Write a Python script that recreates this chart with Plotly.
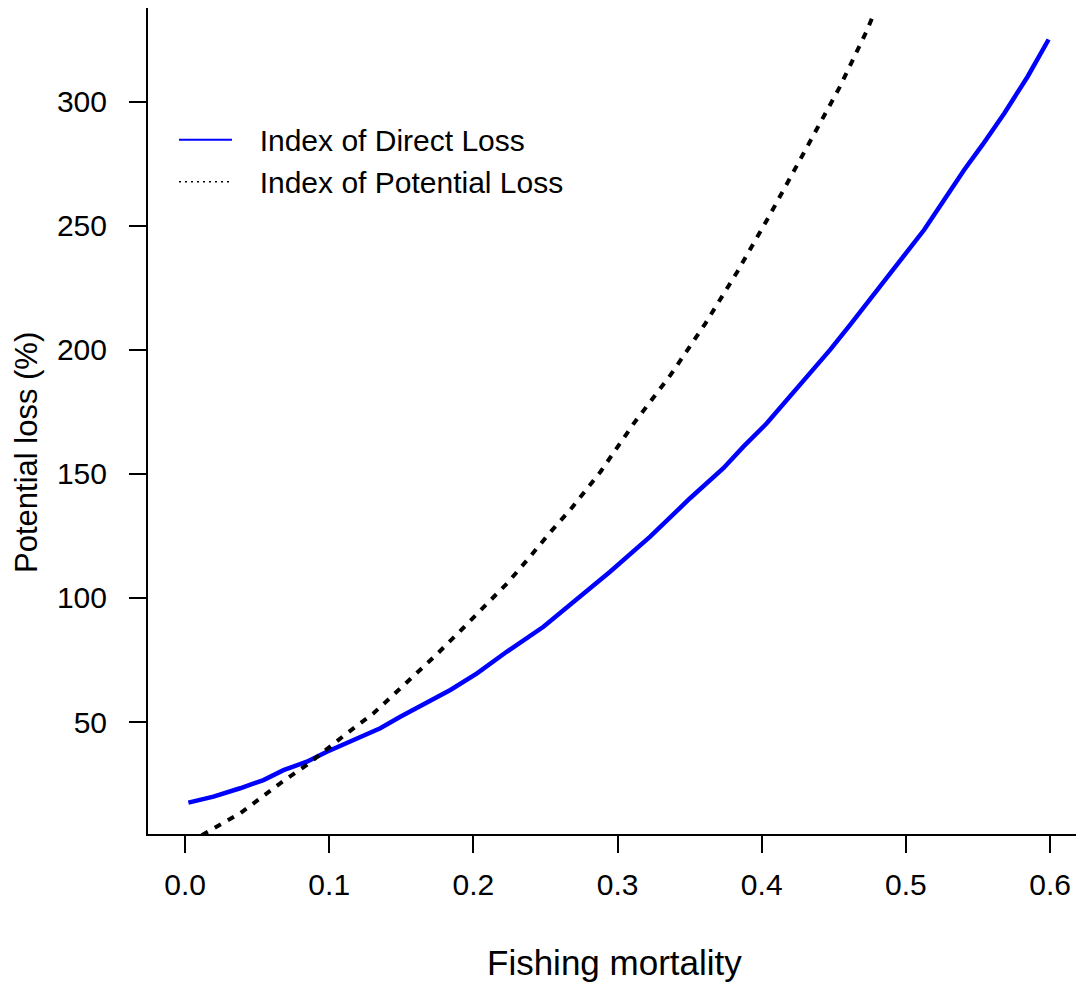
import plotly.graph_objects as go

# Index of Direct Loss (blue solid)
direct_f = [0.0023, 0.0197, 0.0382, 0.0544, 0.0683, 0.0845, 0.0984, 0.1169, 0.1354, 0.1493,
            0.1653, 0.1840, 0.2025, 0.2231, 0.2486, 0.2694, 0.2948, 0.3226, 0.3503, 0.3734,
            0.3873, 0.4035, 0.4174, 0.4335, 0.4474, 0.4613, 0.4757, 0.4965, 0.5127, 0.5266,
            0.5405, 0.5532, 0.5683, 0.5845, 0.5949, 0.5990]
direct_loss = [17.5, 19.9, 23.3, 26.6, 30.6, 34.0, 38.0, 42.7, 47.5, 52.1,
               56.9, 62.9, 69.6, 78.3, 88.4, 98.5, 110.6, 124.7, 140.2, 152.3,
               161.0, 170.4, 179.8, 190.6, 200.0, 210.1, 220.8, 236.3, 248.4, 260.5,
               272.6, 282.7, 295.4, 310.2, 321.0, 325.1]

# Index of Potential Loss (black dotted)
potential_f = [0.0116, 0.0382, 0.0660, 0.0845, 0.1122, 0.1307, 0.1481, 0.1748, 0.1921, 0.2083,
               0.2234, 0.2384, 0.2523, 0.2674, 0.2882, 0.3113, 0.3368, 0.3611, 0.3831, 0.4048,
               0.4217, 0.4388, 0.4541, 0.4731, 0.4777]
potential_loss = [4.4, 13.2, 25.3, 32.7, 45.4, 53.5, 62.9, 77.4, 87.4, 96.8,
                  105.9, 116.0, 125.8, 135.7, 150.9, 170.4, 189.9, 210.8, 231.5, 253.5,
                  271.8, 289.6, 305.9, 328.9, 335.4]

x_ticks = [0.0, 0.1, 0.2, 0.3, 0.4, 0.5, 0.6]
x_ticklabels = ["0.0", "0.1", "0.2", "0.3", "0.4", "0.5", "0.6"]
y_ticks = [50, 100, 150, 200, 250, 300]

FONT = "Liberation Sans, Arial, sans-serif"
PAD = "\u00a0\u00a0\u2009"

fig = go.Figure()
fig.add_trace(go.Scatter(x=direct_f, y=direct_loss, mode="lines", showlegend=False,
                         line=dict(color="#0000FF", width=4.5)))
fig.add_trace(go.Scatter(x=potential_f, y=potential_loss, mode="lines", showlegend=False,
                         line=dict(color="black", width=4, dash="7px,8px")))
# legend entries (thin lines like the reference legend)
fig.add_trace(go.Scatter(x=[None], y=[None], mode="lines", name=PAD + "Index of Direct Loss",
                         line=dict(color="#0000FF", width=2)))
fig.add_trace(go.Scatter(x=[None], y=[None], mode="lines", name=PAD + "Index of Potential Loss",
                         line=dict(color="black", width=1.5, dash="2px,4px")))

fig.update_layout(
    width=1076, height=987,
    margin=dict(l=148, r=0, t=8, b=153),
    paper_bgcolor="white", plot_bgcolor="white",
    font=dict(family=FONT, color="black", size=30),
    legend=dict(x=0.028, y=0.872, xanchor="left", yanchor="top",
                bgcolor="rgba(0,0,0,0)", font=dict(size=30, family=FONT),
                itemwidth=53, tracegroupgap=0),
    xaxis=dict(range=[-0.0257, 0.618], tickvals=x_ticks, ticktext=x_ticklabels,
               showgrid=False, zeroline=False, showline=True, linecolor="black", linewidth=2,
               ticks="outside", ticklen=17, tickwidth=2, tickcolor="black",
               tickfont=dict(size=30), ticklabelstandoff=6),
    yaxis=dict(range=[4.86, 337.8], tickvals=y_ticks,
               showgrid=False, zeroline=False, showline=True, linecolor="black", linewidth=2,
               ticks="outside", ticklen=17, tickwidth=2, tickcolor="black",
               tickfont=dict(size=30), ticklabelstandoff=16),
    annotations=[
        dict(text="Fishing mortality", xref="paper", yref="paper", x=0.5032, y=-0.155,
             xanchor="center", yanchor="middle", showarrow=False, font=dict(size=35)),
        dict(text="Potential loss (%)", xref="paper", yref="paper", x=-0.1304, y=0.4625,
             xanchor="center", yanchor="middle", showarrow=False, textangle=-90,
             font=dict(size=31)),
    ],
)

fig.write_html("out.html")
